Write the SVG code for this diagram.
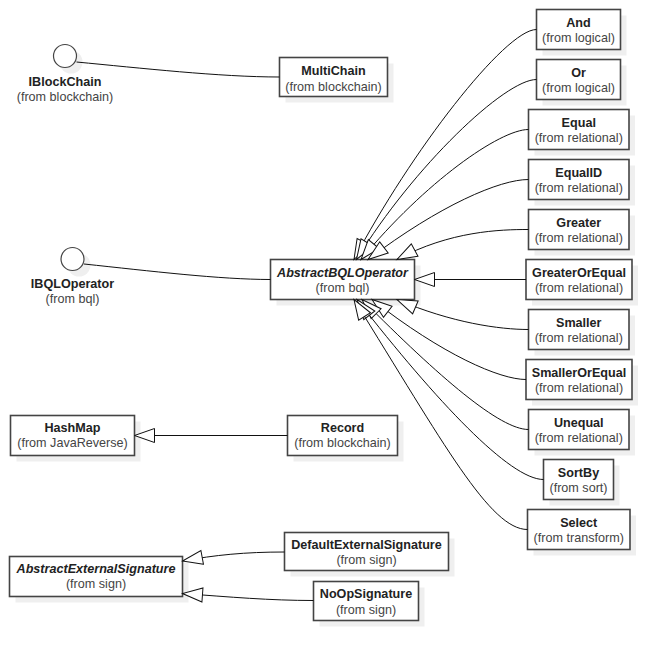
<svg xmlns="http://www.w3.org/2000/svg" width="671" height="661" viewBox="0 0 671 661">
<style>
.shadow{fill:#efefef;stroke:none}
.box{fill:#fff;stroke:#444;stroke-width:1.6}
.iface{fill:#fff;stroke:#444;stroke-width:1.2}
.name{font-family:"Liberation Sans",Arial,sans-serif;font-size:12.6px;font-weight:bold;fill:#222;text-anchor:middle}
.abs{font-style:italic}
.sub{font-family:"Liberation Sans",Arial,sans-serif;font-size:12.6px;fill:#444;text-anchor:middle}
.conn{fill:none;stroke:#111;stroke-width:1}
</style>
<defs>
<marker id="gen" markerUnits="userSpaceOnUse" markerWidth="24" markerHeight="18" refX="21" refY="9" orient="auto" overflow="visible">
<path d="M1,2 L21,9 L1,16 Z" fill="#fff" stroke="#111" stroke-width="1"/>
</marker>
</defs>
<rect width="671" height="661" fill="#fff"/>

<g id="IBlockChain">
<circle class="shadow" cx="71" cy="62" r="11.5"/>
<circle class="iface" cx="65" cy="56" r="11.5"/>
<text class="name" x="65" y="85.5">IBlockChain</text>
<text class="sub" x="65" y="101">(from blockchain)</text>
</g>
<g id="MultiChain">
<rect class="shadow" x="285.5" y="63.5" width="108" height="39"/>
<rect class="box" x="279.5" y="57.5" width="108" height="39"/>
<text class="name" x="333.5" y="75">MultiChain</text>
<text class="sub" x="333.5" y="90.5">(from blockchain)</text>
</g>
<g id="IBQLOperator">
<circle class="shadow" cx="79" cy="265" r="11.5"/>
<circle class="iface" cx="72.5" cy="259" r="11.5"/>
<text class="name" x="72.5" y="288">IBQLOperator</text>
<text class="sub" x="72.5" y="303">(from bql)</text>
</g>
<g id="AbstractBQLOperator">
<rect class="shadow" x="276.5" y="265.5" width="144" height="40"/>
<rect class="box" x="270.5" y="259.5" width="144" height="40"/>
<text class="name abs" x="342.5" y="276.5">AbstractBQLOperator</text>
<text class="sub" x="342.5" y="291.5">(from bql)</text>
</g>
<g id="And">
<rect class="shadow" x="542.5" y="15.5" width="84" height="40"/>
<rect class="box" x="536.5" y="9.5" width="84" height="40"/>
<text class="name" x="578.5" y="26.5">And</text>
<text class="sub" x="578.5" y="41.5">(from logical)</text>
</g>
<g id="Or">
<rect class="shadow" x="542.5" y="65.5" width="84" height="40"/>
<rect class="box" x="536.5" y="59.5" width="84" height="40"/>
<text class="name" x="578.5" y="76.5">Or</text>
<text class="sub" x="578.5" y="91.5">(from logical)</text>
</g>
<g id="Equal">
<rect class="shadow" x="534.5" y="115.5" width="100.5" height="40"/>
<rect class="box" x="528.5" y="109.5" width="100.5" height="40"/>
<text class="name" x="578.75" y="126.5">Equal</text>
<text class="sub" x="578.75" y="141.5">(from relational)</text>
</g>
<g id="EqualID">
<rect class="shadow" x="534.5" y="165.5" width="100.5" height="40"/>
<rect class="box" x="528.5" y="159.5" width="100.5" height="40"/>
<text class="name" x="578.75" y="176.5">EqualID</text>
<text class="sub" x="578.75" y="191.5">(from relational)</text>
</g>
<g id="Greater">
<rect class="shadow" x="534.5" y="215.5" width="100.5" height="40"/>
<rect class="box" x="528.5" y="209.5" width="100.5" height="40"/>
<text class="name" x="578.75" y="226.5">Greater</text>
<text class="sub" x="578.75" y="241.5">(from relational)</text>
</g>
<g id="GreaterOrEqual">
<rect class="shadow" x="532" y="265.5" width="106" height="40"/>
<rect class="box" x="526" y="259.5" width="106" height="40"/>
<text class="name" x="579" y="276.5">GreaterOrEqual</text>
<text class="sub" x="579" y="291.5">(from relational)</text>
</g>
<g id="Smaller">
<rect class="shadow" x="534.5" y="315.5" width="100.5" height="40"/>
<rect class="box" x="528.5" y="309.5" width="100.5" height="40"/>
<text class="name" x="578.75" y="326.5">Smaller</text>
<text class="sub" x="578.75" y="341.5">(from relational)</text>
</g>
<g id="SmallerOrEqual">
<rect class="shadow" x="532" y="365.5" width="106" height="40"/>
<rect class="box" x="526" y="359.5" width="106" height="40"/>
<text class="name" x="579" y="376.5">SmallerOrEqual</text>
<text class="sub" x="579" y="391.5">(from relational)</text>
</g>
<g id="Unequal">
<rect class="shadow" x="534.5" y="415.5" width="100.5" height="40"/>
<rect class="box" x="528.5" y="409.5" width="100.5" height="40"/>
<text class="name" x="578.75" y="426.5">Unequal</text>
<text class="sub" x="578.75" y="441.5">(from relational)</text>
</g>
<g id="SortBy">
<rect class="shadow" x="549.5" y="465.5" width="70" height="40"/>
<rect class="box" x="543.5" y="459.5" width="70" height="40"/>
<text class="name" x="578.5" y="476.5">SortBy</text>
<text class="sub" x="578.5" y="491.5">(from sort)</text>
</g>
<g id="Select">
<rect class="shadow" x="533.5" y="515.5" width="102.5" height="40"/>
<rect class="box" x="527.5" y="509.5" width="102.5" height="40"/>
<text class="name" x="578.75" y="526.5">Select</text>
<text class="sub" x="578.75" y="541.5">(from transform)</text>
</g>
<g id="HashMap">
<rect class="shadow" x="16.5" y="421.5" width="124" height="40"/>
<rect class="box" x="10.5" y="415.5" width="124" height="40"/>
<text class="name" x="72.5" y="432">HashMap</text>
<text class="sub" x="72.5" y="447">(from JavaReverse)</text>
</g>
<g id="Record">
<rect class="shadow" x="293.5" y="421.5" width="110" height="40"/>
<rect class="box" x="287.5" y="415.5" width="110" height="40"/>
<text class="name" x="342.5" y="432">Record</text>
<text class="sub" x="342.5" y="447">(from blockchain)</text>
</g>
<g id="AbstractExternalSignature">
<rect class="shadow" x="15.5" y="562.5" width="173" height="40"/>
<rect class="box" x="9.5" y="556.5" width="173" height="40"/>
<text class="name abs" x="96" y="573">AbstractExternalSignature</text>
<text class="sub" x="96" y="588">(from sign)</text>
</g>
<g id="DefaultExternalSignature">
<rect class="shadow" x="290.5" y="538.5" width="164" height="38"/>
<rect class="box" x="284.5" y="532.5" width="164" height="38"/>
<text class="name" x="366.5" y="548.5">DefaultExternalSignature</text>
<text class="sub" x="366.5" y="564">(from sign)</text>
</g>
<g id="NoOpSignature">
<rect class="shadow" x="319.5" y="587.5" width="105" height="39"/>
<rect class="box" x="313.5" y="581.5" width="105" height="39"/>
<text class="name" x="366" y="598">NoOpSignature</text>
<text class="sub" x="366" y="613.5">(from sign)</text>
</g>

<g id="connectors">
<path class="conn" d="M76.5,62 C140,68 220,77 279.5,77"/>
<path class="conn" d="M84,264 C150,271 220,279.5 270.5,279.5"/>
<path class="conn" marker-end="url(#gen)" d="M536.5,29.5 C505,29.5 410,153 354,259.5"/>
<path class="conn" marker-end="url(#gen)" d="M536.5,79.5 C505,79.5 414,166 356.5,259.5"/>
<path class="conn" marker-end="url(#gen)" d="M528.5,129.5 C500,129.5 425,182 361,259.5"/>
<path class="conn" marker-end="url(#gen)" d="M528.5,179.5 C500,179.5 440,205 368,259.5"/>
<path class="conn" marker-end="url(#gen)" d="M528.5,229.5 C500,229.5 450,231 397,259.5"/>
<path class="conn" marker-end="url(#gen)" d="M526,279.5 L414.5,279.5"/>
<path class="conn" marker-end="url(#gen)" d="M528.5,329.5 C500,329.5 452,323 397,299.5"/>
<path class="conn" marker-end="url(#gen)" d="M526,379.5 C500,379.5 443,355 372,299.5"/>
<path class="conn" marker-end="url(#gen)" d="M528.5,429.5 C500,429.5 440,378 362,299.5"/>
<path class="conn" marker-end="url(#gen)" d="M543.5,479.5 C510,479.5 437,402 357,299.5"/>
<path class="conn" marker-end="url(#gen)" d="M527.5,529.5 C490,529.5 444,444 354,299.5"/>
<path class="conn" marker-end="url(#gen)" d="M287.5,435.5 L134.5,435.5"/>
<path class="conn" marker-end="url(#gen)" d="M284.5,552 C245,552 215,555 182.5,561"/>
<path class="conn" marker-end="url(#gen)" d="M313.5,600.5 C270,600.5 230,597 182.5,593.5"/>
</g>
</svg>
